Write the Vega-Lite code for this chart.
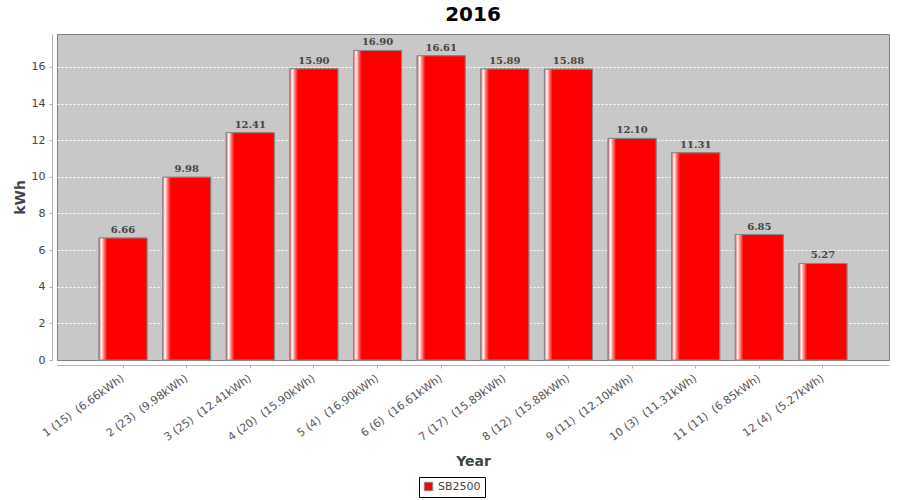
{
  "$schema": "https://vega.github.io/schema/vega-lite/v6.json",
  "autosize": "none",
  "width": 832,
  "height": 326,
  "padding": {"left": 57, "top": 34, "right": 11, "bottom": 140},
  "background": "white",
  "title": {"text": "2016", "fontSize": 20, "fontWeight": "bold", "font": "DejaVu Sans", "color": "#000000", "anchor": "middle", "offset": 9},
  "config": {
    "view": {"fill": "#c8c8c8", "stroke": "#808080", "strokeWidth": 1},
    "font": "DejaVu Sans"
  },
  "data": {"values": [
    {"month": "1 (15)\u00a0 (6.66kWh)", "kwh": 6.66, "series": "SB2500"},
    {"month": "2 (23)\u00a0 (9.98kWh)", "kwh": 9.98, "series": "SB2500"},
    {"month": "3 (25)\u00a0 (12.41kWh)", "kwh": 12.41, "series": "SB2500"},
    {"month": "4 (20)\u00a0 (15.90kWh)", "kwh": 15.90, "series": "SB2500"},
    {"month": "5 (4)\u00a0 (16.90kWh)", "kwh": 16.90, "series": "SB2500"},
    {"month": "6 (6)\u00a0 (16.61kWh)", "kwh": 16.61, "series": "SB2500"},
    {"month": "7 (17)\u00a0 (15.89kWh)", "kwh": 15.89, "series": "SB2500"},
    {"month": "8 (12)\u00a0 (15.88kWh)", "kwh": 15.88, "series": "SB2500"},
    {"month": "9 (11)\u00a0 (12.10kWh)", "kwh": 12.10, "series": "SB2500"},
    {"month": "10 (3)\u00a0 (11.31kWh)", "kwh": 11.31, "series": "SB2500"},
    {"month": "11 (11)\u00a0 (6.85kWh)", "kwh": 6.85, "series": "SB2500"},
    {"month": "12 (4)\u00a0 (5.27kWh)", "kwh": 5.27, "series": "SB2500"}
  ]},
  "encoding": {
    "x": {
      "field": "month", "type": "nominal", "sort": null,
      "scale": {"paddingInner": 0.245, "paddingOuter": 0.66},
      "axis": {
        "title": "Year", "titleFontSize": 14, "titleFontWeight": "bold", "titleColor": "#444444", "titlePadding": 12,
        "labelAngle": -36, "labelAlign": "right", "labelBaseline": "middle", "labelFontSize": 11, "labelColor": "#555555",
        "labelPadding": 9,
        "offset": 5, "domainColor": "#b0b0b0", "tickColor": "#b0b0b0", "tickSize": 3, "grid": false
      }
    },
    "y": {
      "field": "kwh", "type": "quantitative",
      "scale": {"domain": [0, 17.8], "nice": false},
      "axis": {
        "title": "kWh", "titleFontSize": 14, "titleFontWeight": "bold", "titleColor": "#444444", "titlePadding": 4,
        "values": [0, 2, 4, 6, 8, 10, 12, 14, 16],
        "labelFontSize": 11, "labelColor": "#444444", "labelPadding": 4,
        "offset": 5, "domainColor": "#b0b0b0", "tickColor": "#b0b0b0", "tickSize": 3,
        "grid": true, "gridColor": "#ffffff", "gridDash": [2, 2], "gridWidth": 1,
        "gridOpacity": {"condition": {"test": "datum.value === 0", "value": 0}, "value": 1}
      }
    }
  },
  "layer": [
    {
      "mark": {"type": "bar", "stroke": "#888888", "strokeWidth": 1},
      "encoding": {
        "color": {
          "field": "series", "type": "nominal",
          "scale": {"range": ["#ff0000"]},
          "legend": {
            "title": null, "orient": "none", "legendX": 362, "legendY": 443,
            "symbolType": "square", "symbolSize": 70, "symbolStrokeColor": "#888888", "symbolStrokeWidth": 1,
            "labelFontSize": 11, "labelColor": "#444444",
            "strokeColor": "#000000", "padding": 4, "fillColor": "white"
          }
        }
      }
    },
    {
      "mark": {
        "type": "bar", "stroke": "#888888", "strokeWidth": 1,
        "fill": {
          "gradient": "linear", "x1": 0, "y1": 0, "x2": 1, "y2": 0,
          "stops": [
            {"offset": 0, "color": "#ff5050"},
            {"offset": 0.05, "color": "#ffffff"},
            {"offset": 0.1, "color": "#ff8080"},
            {"offset": 0.17, "color": "#ff0000"},
            {"offset": 1, "color": "#ff0000"}
          ]
        }
      },
      "encoding": {}
    },
    {
      "mark": {"type": "text", "font": "DejaVu Serif", "fontWeight": "bold", "fontSize": 10, "color": "#444444", "baseline": "bottom", "dy": -3},
      "encoding": {"text": {"field": "kwh", "type": "quantitative", "format": ".2f"}}
    }
  ]
}
